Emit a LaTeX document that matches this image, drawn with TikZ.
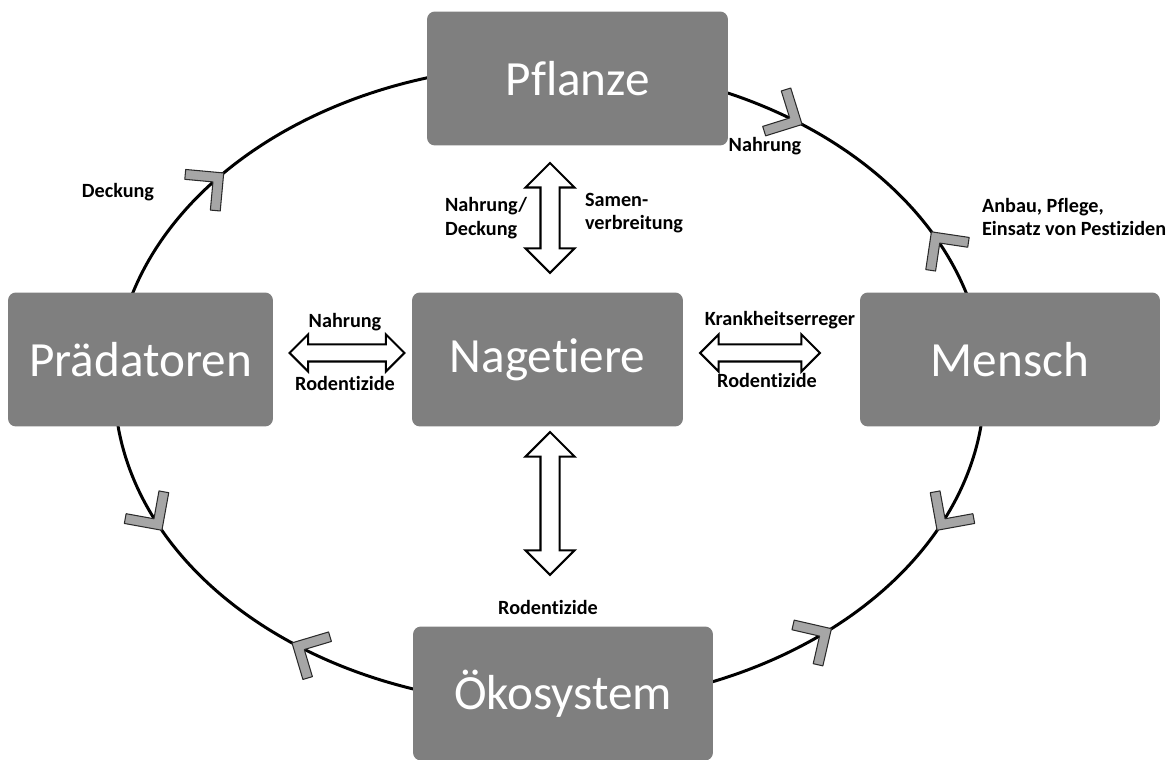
\documentclass[tikz,border=0pt]{standalone}
\usepackage{fontspec}
\setmainfont{Carlito}[Ligatures=NoCommon]
\usepackage{tikz}
\usetikzlibrary{calc,shapes.arrows}
\definecolor{boxgray}{HTML}{7F7F7F}
\definecolor{chevgray}{HTML}{A6A6A6}
\definecolor{chevline}{HTML}{2A2A2A}

\tikzset{
  chev/.pic={
    \filldraw[fill=chevgray, draw=chevline, line width=0.6pt, line join=round]
      (0,0) -- (-27,27) -- (-34,20) -- (-14,0) -- (-34,-20) -- (-27,-27) -- cycle;
  }
}

\begin{document}
\begin{tikzpicture}[x=0.02cm, y=0.02cm,
      box/.style={fill=boxgray, rounded corners=4.5pt, text=white,
                  minimum height=2.68cm, font=\fontsize{28}{32}\selectfont},
      lab/.style={font=\bfseries\fontsize{11.5}{13.5}\selectfont, inner sep=1pt},
      dblarr/.style={double arrow, draw, line width=1.2pt, fill=white, inner xsep=0pt,
                     inner ysep=0.17cm, double arrow head extend=0.3cm}
    ]
    \useasboundingbox (0,0) rectangle (1170,760);
    \coordinate (ctr) at (549.5,375);

    % cycle around
    \draw[line width=1.7pt] (ctr) ellipse [x radius=435, y radius=320];
    \foreach \t/\s in {54.5/1, 28.6/0, 138.5/1, 207/0, 233.7/1, 310.4/0, 333/1} {
      \pgfmathsetmacro\ang{atan2(320*cos(\t), -435*sin(\t)) + 180*\s}
      \pic[rotate=\ang] at ($(ctr)+(\t:435 and 320)$) {chev};
    }

    \node[box, minimum width=6.02cm] (pfl) at (577.5,681.5) {Pflanze};
    \node[box, minimum width=5.3cm]  (prd) at (140.5,400.5) {Prädatoren};
    \node[box, minimum width=5.42cm] (nag) at (547.5,400.5) {Nagetiere};
    \node[box, minimum width=6cm]    (men) at (1010,400.5)  {Mensch};
    \node[box, minimum width=6cm]    (oek) at (563,66.5)    {Ökosystem};

    \node[dblarr, rotate=90, minimum height=2.2cm]  (pn) at (550,542)   {};
    \node[dblarr, rotate=90, minimum height=2.86cm] (no) at (550,256.5) {};
    \node[dblarr, minimum height=2.3cm, inner ysep=0.15cm, double arrow head extend=0.2cm] (pr) at (347,407) {};
    \node[dblarr, minimum height=2.4cm, inner ysep=0.15cm, double arrow head extend=0.2cm] (nm) at (760,407) {};

    \node[lab] (l1) at (118,568) {Deckung};
    \node[lab] (l2) at (765,614) {Nahrung};
    \node[lab, anchor=west, align=left] (l3) at (980,543) {Anbau, Pflege,\\Einsatz von Pestiziden};
    \node[lab, anchor=west, align=left] (l4) at (443,542) {Nahrung/\\Deckung};
    \node[lab, anchor=west, align=left] (l5) at (583,547) {Samen-\\verbreitung};
    \node[lab] (l6) at (345,438) {Nahrung};
    \node[lab] (l7) at (345,377) {Rodentizide};
    \node[lab] (l8) at (780,440) {Krankheitserreger};
    \node[lab] (l9) at (767,380) {Rodentizide};
    \node[lab] (l10) at (548,153) {Rodentizide};
  \end{tikzpicture}
\end{document}
